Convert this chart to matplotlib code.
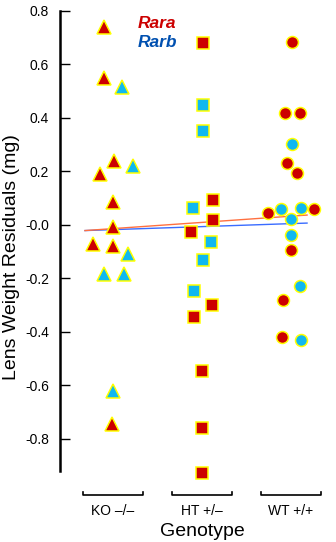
import matplotlib
matplotlib.use('Agg')
import matplotlib.pyplot as plt
import numpy as np

plt.rcParams['font.family'] = ['Liberation Sans', 'DejaVu Sans']

groups = ['KO \u2013/\u2013', 'HT +/\u2013', 'WT +/+']

# lens weight residuals (mg)
ko_rara = [0.74, 0.55, 0.24, 0.19, 0.086, -0.007, -0.07, -0.08, -0.745]
ko_rara_dx = [-0.10, -0.10, 0.01, -0.15, 0.0, 0.0, -0.22, 0.0, -0.01]
ko_rarb = [0.515, 0.22, -0.11, -0.183, -0.183, -0.62]
ko_rarb_dx = [0.10, 0.22, 0.17, -0.10, 0.12, 0.0]

ht_rara = [0.68, 0.093, 0.019, -0.026, -0.30, -0.343, -0.545, -0.759, -0.927]
ht_rara_dx = [0.01, 0.12, 0.12, -0.12, 0.11, -0.09, 0.0, 0.0, 0.0]
ht_rarb = [0.45, 0.35, 0.063, -0.064, -0.131, -0.247]
ht_rarb_dx = [0.01, 0.01, -0.10, 0.10, 0.01, -0.09]

wt_rara = [0.684, 0.42, 0.42, 0.232, 0.196, 0.045, 0.061, -0.093, -0.279, -0.419]
wt_rara_dx = [0.01, -0.07, 0.10, -0.04, 0.07, -0.26, 0.26, 0.0, -0.09, -0.10]
wt_rarb = [0.304, 0.059, 0.063, 0.022, -0.036, -0.228, -0.429]
wt_rarb_dx = [0.01, -0.11, 0.11, 0.0, 0.0, 0.10, 0.11]

# fitted trend lines (x in group units, y in mg)
fit_x = [0.685, 3.18]
fit_rara = [-0.021, 0.037]
fit_rarb = [-0.021, 0.007]

red = '#cc0000'
cyan = '#10b8f0'
yellow = '#ffff00'

fig = plt.figure(figsize=(3.36, 5.42), dpi=100)
ax = fig.add_axes([60/336, 1 - 471/542, 270/336, 460/542])

ax.plot(fit_x, fit_rarb, color='#3a6cff', lw=1.0, zorder=2)
ax.plot(fit_x, fit_rara, color='#ff7040', lw=1.0, zorder=2)

series = [
    (1, ko_rara, ko_rara_dx, red, '^', 10),
    (1, ko_rarb, ko_rarb_dx, cyan, '^', 10),
    (2, ht_rara, ht_rara_dx, red, 's', 8.2),
    (2, ht_rarb, ht_rarb_dx, cyan, 's', 8.2),
    (3, wt_rara, wt_rara_dx, red, 'o', 8.6),
    (3, wt_rarb, wt_rarb_dx, cyan, 'o', 8.6),
]
for xc, vals, dx, col, mk, ms in series:
    xs = xc + np.array(dx)
    ax.plot(xs, vals, ls='none', marker=mk, ms=ms, mfc=col, mec=yellow,
            mew=1.1, zorder=3, clip_on=False)

ax.set_xlim(0.404, 3.438)
ax.set_ylim(-0.92, 0.8)
ax.set_yticks([0.8, 0.6, 0.4, 0.2, 0.0, -0.2, -0.4, -0.6, -0.8])
ax.set_yticklabels(['0.8', '0.6', '0.4', '0.2', '-0.0', '-0.2', '-0.4', '-0.6', '-0.8'])
ax.tick_params(axis='y', direction='in', length=7, width=1.0, pad=8, labelsize=10)
ax.set_xticks([])
for s in ['top', 'right', 'bottom']:
    ax.spines[s].set_visible(False)
ax.spines['left'].set_linewidth(1.8)

# group brackets under the axis
for i, g in enumerate(groups):
    xc = i + 1
    ax.plot([xc - 0.34, xc - 0.34, xc + 0.34, xc + 0.34],
            [-1.0, -1.011, -1.011, -1.0], color='black', lw=1.2, clip_on=False)
    ax.text(xc, -1.068, g, ha='center', va='center', fontsize=10)

ax.text(2, -1.145, 'Genotype', ha='center', va='center', fontsize=14)
fig.text(12/336, 1 - 257/542, 'Lens Weight Residuals (mg)', rotation=90,
         ha='center', va='center', fontsize=14)

ax.text(138/336, 1 - 23/542, 'Rara', transform=fig.transFigure, color=red,
        fontsize=12.5, fontweight='bold', fontstyle='italic', va='center')
ax.text(138/336, 1 - 42/542, 'Rarb', transform=fig.transFigure, color='#0050b0',
        fontsize=12.5, fontweight='bold', fontstyle='italic', va='center')

plt.savefig('out.png', dpi=100)
plt.close()
